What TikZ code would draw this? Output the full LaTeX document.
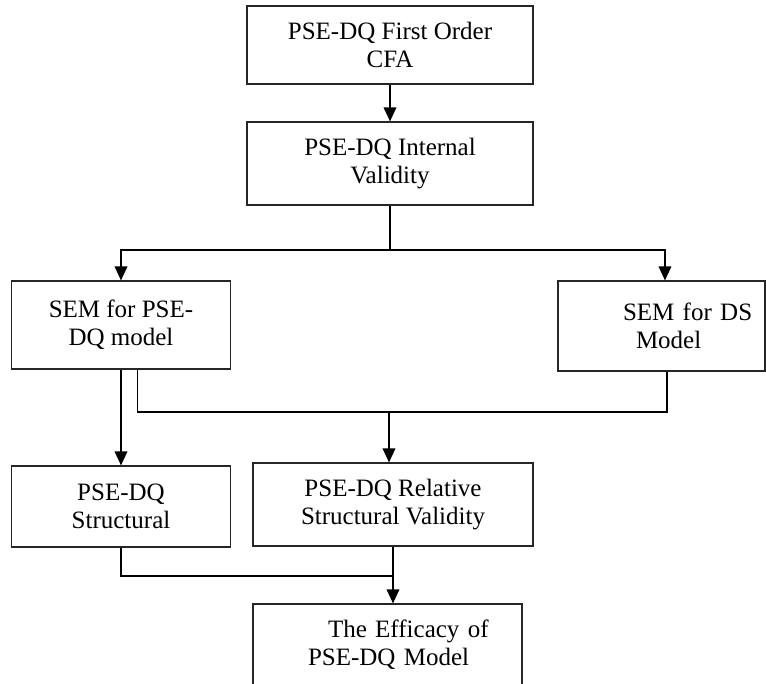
\documentclass[tikz,border=0pt]{standalone}
\usepackage{fontspec}
\setmainfont{Liberation Serif}
\usetikzlibrary{arrows.meta,positioning,calc}
\tikzset{
 stage/.style={draw=black!85, line width=0.9pt, align=center, inner sep=0pt, font=\fontsize{18.75}{21}\selectfont},
 flowline/.style={draw=black, line width=1pt},
 flowarrow/.style={flowline, -{Triangle[length=10.5pt,width=9.5pt]}}
}

\begin{document}
\begin{tikzpicture}[x=0.75pt,y=-0.75pt]
\useasboundingbox (0,0) rectangle (766,683);
\clip (0,0) rectangle (766,683);
% stages
\node[stage, minimum width=214.5pt, minimum height=58.5pt] (cfa) at (390,45) {PSE-DQ First Order\\CFA};
\node[stage, minimum width=214.5pt, minimum height=62.25pt] (internal) at (390,163.5) {PSE-DQ Internal\\Validity};
\node[stage, minimum width=164.25pt, minimum height=66pt] (semdq) at (121,325) {SEM for PSE-\\DQ model};
\node[stage, minimum height=67.5pt, text width=155.25pt, align=left] (sds) at (661.5,326) {\hspace*{48.75pt}SEM for DS\\\hspace*{58.5pt}Model};
\node[stage, minimum width=164.25pt, minimum height=60.75pt] (structural) at (121,506.5) {PSE-DQ\\Structural};
\node[stage, minimum width=210pt, minimum height=62.25pt] (relative) at (393,504.5) {PSE-DQ Relative\\Structural Validity};
\node[stage, minimum height=61.5pt, text width=201.75pt, align=left] (efficacy) at (387.5,645) {\hspace*{56.25pt}The Efficacy of\\\hspace*{41.25pt}PSE-DQ Model};

% connectors
\coordinate (split) at (390,250);
\coordinate (merge) at (389,412);
\coordinate (join) at (393,576);
\draw[flowarrow] (cfa) -- (internal);
\draw[flowarrow] (internal) -- (split) -| (semdq);
\draw[flowarrow] (split) -| ([xshift=2.6pt]sds.north);
\draw[flowarrow] (semdq.south) -- (structural.north);
\draw[flowline] ([xshift=12.4pt]semdq.south) |- (merge) -| ([xshift=4pt]sds.south);
\draw[flowarrow] (merge) -- (merge |- relative.north);
\draw[flowline] (structural) |- (join);
\draw[flowarrow] (relative) -- (relative |- efficacy.north);
\end{tikzpicture}
\end{document}
